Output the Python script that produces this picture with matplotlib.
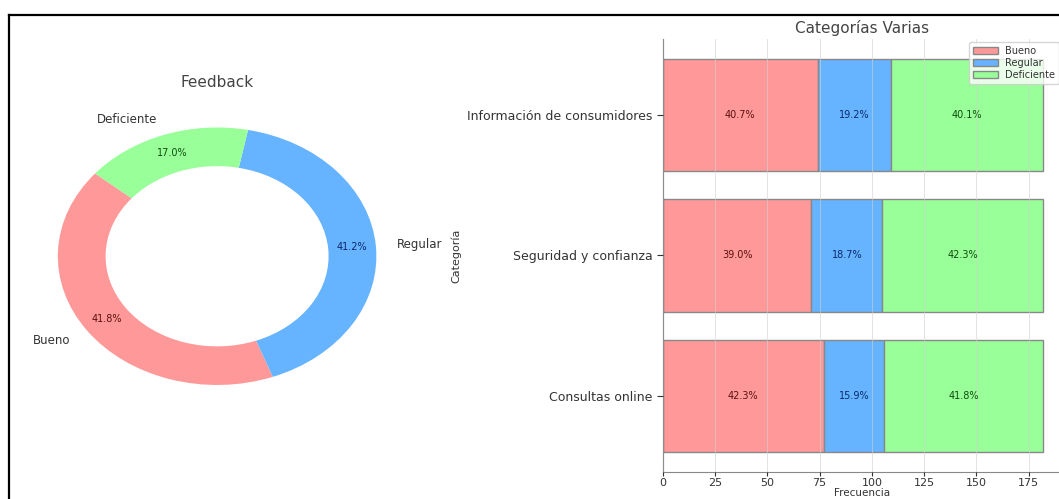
import matplotlib
matplotlib.use('Agg')
import matplotlib.pyplot as plt
import numpy as np
from matplotlib.lines import Line2D

# pie data
pie_labels = ['Bueno', 'Regular', 'Deficiente']
pie_values = [41.8, 41.2, 17.0]

# stacked bar data
categories = ['Consultas online', 'Seguridad y confianza', 'Información de consumidores']
bueno = np.array([77, 71, 74])
regular = np.array([29, 34, 35])
deficiente = np.array([76, 77, 73])

colors = ['#ff9999', '#66b3ff', '#99ff99']
text_colors = ['#5c1010', '#0b2a6b', '#0d4d0d']

plt.rcParams['font.family'] = 'DejaVu Sans'
plt.rcParams['text.color'] = '#333333'
plt.rcParams['axes.labelcolor'] = '#333333'
plt.rcParams['xtick.color'] = '#333333'
plt.rcParams['ytick.color'] = '#333333'

fig = plt.figure(figsize=(10.59, 4.99), dpi=100)

# donut
ax1 = fig.add_axes([0.017, 0.164, 0.376, 0.645])
wedges, texts, autotexts = ax1.pie(pie_values, labels=pie_labels, colors=colors,
                                   autopct='%1.1f%%', startangle=140, pctdistance=0.85,
                                   labeldistance=1.13,
                                   wedgeprops=dict(width=0.3), textprops=dict(fontsize=8.5))
for t, c in zip(autotexts, text_colors):
    t.set_color(c)
    t.set_fontsize(7)
ax1.set_aspect('auto')
ax1.set_xlim(-1.25, 1.25)
ax1.set_ylim(-1.25, 1.25)
ax1.set_title('Feedback', fontsize=11, color='#444444')

# stacked bars
ax2 = fig.add_axes([0.626, 0.054, 0.377, 0.868])
y = np.arange(len(categories))
total = bueno + regular + deficiente
b1 = ax2.barh(y, bueno, height=0.8, color=colors[0], edgecolor='#888888', label='Bueno')
b2 = ax2.barh(y, regular, height=0.8, left=bueno, color=colors[1], edgecolor='#888888', label='Regular')
b3 = ax2.barh(y, deficiente, height=0.8, left=bueno + regular, color=colors[2], edgecolor='#888888', label='Deficiente')

for bars, vals, c in zip([b1, b2, b3], [bueno, regular, deficiente], text_colors):
    for bar, v, tot in zip(bars, vals, total):
        ax2.text(bar.get_x() + bar.get_width() / 2, bar.get_y() + bar.get_height() / 2,
                 '%.1f%%' % (v / tot * 100), ha='center', va='center', fontsize=7, color=c)

ax2.set_yticks(y)
ax2.set_yticklabels(categories, fontsize=9)
ax2.set_xticks([0, 25, 50, 75, 100, 125, 150, 175])
ax2.tick_params(axis='x', labelsize=8, length=3, pad=1.5)
ax2.tick_params(axis='y', length=4)
ax2.set_xlabel('Frecuencia', fontsize=7.5, labelpad=0)
ax2.set_ylabel('Categoría', fontsize=8)
ax2.set_title('Categorías Varias', fontsize=11, color='#444444', pad=4)
ax2.grid(axis='x', color='#d0d0d0', linewidth=0.7, alpha=0.6)
ax2.set_axisbelow(False)
ax2.spines['top'].set_visible(False)
ax2.spines['right'].set_visible(False)
ax2.spines['left'].set_color('#333333')
ax2.spines['bottom'].set_color('#888888')
ax2.legend(loc='upper right', fontsize=7, frameon=True, borderaxespad=0.3,
           handlelength=2.5, labelspacing=0.2)

# frame lines top / left
fig.add_artist(Line2D([9 / 1059, 1], [1 - 15 / 499, 1 - 15 / 499], color='black', linewidth=1.6))
fig.add_artist(Line2D([9 / 1059, 9 / 1059], [0, 1 - 15 / 499], color='black', linewidth=1.6))

fig.savefig('out.png', dpi=100)
